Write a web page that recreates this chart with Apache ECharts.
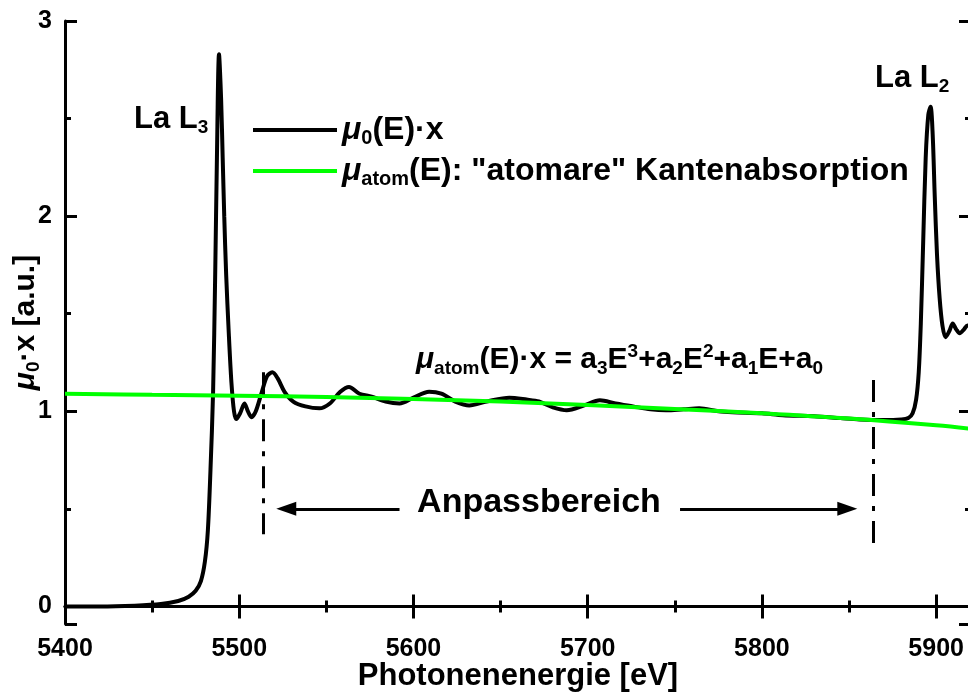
<!DOCTYPE html>
<html>
<head>
<meta charset="utf-8">
<script src="https://cdn.jsdelivr.net/npm/echarts@6/dist/echarts.min.js"></script>
<style>
  html, body { margin: 0; padding: 0; background: #ffffff; }
  #chart { width: 968px; height: 695px; }
</style>
</head>
<body>
<div id="chart"></div>
<script>
// Measured absorption spectrum around the La L3 and L2 edges
const energy = [
  5400, 5420, 5440, 5455, 5465, 5471, 5475, 5478, 5480.3, 5482, 5483.5, 5485, 5486.2, 5487.2, 5488.4,
  5489.6, 5490.5, 5491.4, 5492.5, 5494, 5495.5, 5497, 5498.3, 5500.5, 5503, 5505, 5507, 5509.5,
  5513, 5516, 5519, 5522, 5526, 5531, 5538, 5546, 5552, 5558, 5563, 5569, 5576, 5584, 5592,
  5600, 5609, 5616, 5624, 5632, 5642, 5655, 5665, 5672, 5680, 5688, 5698, 5707, 5716, 5726,
  5736, 5745, 5755, 5764, 5775, 5783, 5800, 5812, 5830, 5845, 5856, 5870, 5880, 5884, 5886.5,
  5888.5, 5890, 5891.2, 5892.5, 5894, 5895.5, 5896.8, 5898, 5899.2, 5900.5, 5902, 5903.6,
  5905.4, 5907.5, 5909.5, 5911.5, 5913.5, 5916, 5918, 5920
];
const mu0 = [
  0.000, 0.000, 0.004, 0.012, 0.028, 0.05, 0.08, 0.13, 0.23, 0.39, 0.7, 1.1, 1.7, 2.3, 2.83,
  2.6, 2.3, 2.0, 1.7, 1.4, 1.15, 1.0, 0.96, 0.99, 1.04, 1.0, 0.97, 1.0,
  1.1, 1.18, 1.2, 1.17, 1.1, 1.05, 1.025, 1.015, 1.04, 1.1, 1.125, 1.09, 1.075, 1.05, 1.04,
  1.07, 1.10, 1.09, 1.05, 1.03, 1.05, 1.07, 1.06, 1.05, 1.02, 1.005, 1.03, 1.056, 1.04, 1.025,
  1.01, 1.005, 1.01, 1.015, 1.0, 0.995, 0.99, 0.98, 0.975, 0.965, 0.958, 0.955, 0.958, 0.965, 0.99,
  1.06, 1.2, 1.45, 1.85, 2.3, 2.52, 2.56, 2.42, 2.1, 1.8, 1.58, 1.44,
  1.38, 1.41, 1.45, 1.42, 1.40, 1.42, 1.44, 1.44
];

// Cubic background ("atomic" edge absorption)
const atomEnergy = [5400, 5450, 5500, 5550, 5600, 5650, 5700, 5750, 5800, 5850, 5900, 5920];
const atomMu = [1.09, 1.085, 1.08, 1.073, 1.063, 1.05, 1.032, 1.012, 0.99, 0.963, 0.928, 0.91];

// Axis ranges and ticks
const xRange = [5400, 5920];
const xStep = 100;
const yRange = [-0.09, 3];
const yTickLabels = [0, 1, 2, 3];

// Fit window markers and the arrows between them
const fitRange = [5514, 5864];
const fitLineTop = [1.2, 1.16];
const fitLineBottom = [0.37, 0.31];
const arrowLevel = 0.5;
const arrowLeft = [5592, 5527];   // tail, head
const arrowRight = [5753, 5849];  // tail, head

const FONT = '"Liberation Sans", Arial, Helvetica, sans-serif';

function richSet(size, lh, subLh, supLh) {
  const base = { fontFamily: FONT, fontWeight: 'bold', color: '#000' };
  return {
    t: Object.assign({}, base, { fontSize: size, lineHeight: lh }),
    mu: Object.assign({}, base, { fontSize: size, lineHeight: lh, fontStyle: 'italic' }),
    sub: Object.assign({}, base, { fontSize: Math.round(size * 0.62), lineHeight: subLh, verticalAlign: 'bottom' }),
    sup: Object.assign({}, base, { fontSize: Math.round(size * 0.62), lineHeight: supLh, verticalAlign: 'top' })
  };
}

const legendLabels = {
  mu0: '{mu|\u03bc}{sub|0}{t|(E)\u00b7x}',
  atom: '{mu|\u03bc}{sub|atom}{t|(E): "atomare" Kantenabsorption}'
};

const zip = (a, b) => a.map((v, i) => [v, b[i]]);

const axisLine = { show: true, lineStyle: { color: '#000', width: 3 } };
const majorTick = { show: true, inside: true, length: 12, lineStyle: { color: '#000', width: 3 } };
const minorTick = { show: true, splitNumber: 2, length: 6, lineStyle: { color: '#000', width: 3 } };

const chart = echarts.init(document.getElementById('chart'), null, { renderer: 'canvas' });

chart.setOption({
  animation: false,
  backgroundColor: '#ffffff',
  grid: { left: 65, right: -3, top: 21, bottom: 71, containLabel: false, outerBoundsMode: 'none' },
  legend: {
    data: ['mu0', 'atom'],
    orient: 'vertical',
    left: 248,
    top: 109,
    icon: 'rect',
    itemWidth: 84,
    itemHeight: 4,
    itemGap: 7,
    formatter: name => legendLabels[name],
    textStyle: { rich: richSet(32, 36, 16, 12) }
  },
  xAxis: [
    {
      type: 'value', position: 'bottom', min: xRange[0], max: xRange[1], interval: xStep,
      axisLine, axisTick: majorTick, minorTick, splitLine: { show: false },
      axisLabel: {
        margin: 13, color: '#000', fontFamily: FONT, fontWeight: 'bold', fontSize: 25,
        formatter: v => (v % xStep === 0 ? String(v) : '')
      },
      name: 'Photonenenergie [eV]', nameLocation: 'middle', nameGap: 37, nameMoveOverlap: false,
      nameTextStyle: { color: '#000', fontFamily: FONT, fontWeight: 'bold', fontSize: 31 }
    },
    {
      type: 'value', position: 'top', min: xRange[0], max: xRange[1], interval: xStep,
      axisLine, axisTick: majorTick, minorTick, splitLine: { show: false },
      axisLabel: { show: false }
    }
  ],
  yAxis: [
    {
      type: 'value', position: 'left', min: yRange[0], max: yRange[1],
      splitNumber: 3, minInterval: 1, maxInterval: 1,
      axisLine, axisTick: majorTick, minorTick, splitLine: { show: false },
      axisLabel: {
        margin: 13, color: '#000', fontFamily: FONT, fontWeight: 'bold', fontSize: 25,
        formatter: v => (yTickLabels.indexOf(v) >= 0 ? String(v) : '')
      },
      name: '{mu|\u03bc}{sub|0}{t|\u00b7x [a.u.]}', nameLocation: 'middle', nameGap: 22, nameMoveOverlap: false,
      nameTextStyle: { rich: richSet(30, 34, 15, 12) }
    },
    {
      type: 'value', position: 'right', min: yRange[0], max: yRange[1],
      splitNumber: 3, minInterval: 1, maxInterval: 1,
      axisLine, axisTick: majorTick, minorTick, splitLine: { show: false },
      axisLabel: { show: false }
    }
  ],
  series: [
    {
      name: 'mu0', type: 'line', xAxisIndex: 0, yAxisIndex: 0,
      data: zip(energy, mu0), showSymbol: false, symbol: 'none', smooth: 0.3,
      lineStyle: { color: '#000', width: 4 }, itemStyle: { color: '#000' }, z: 2
    },
    {
      name: 'atom', type: 'line', xAxisIndex: 0, yAxisIndex: 0,
      data: zip(atomEnergy, atomMu), showSymbol: false, symbol: 'none', smooth: 0.4,
      lineStyle: { color: '#00ff00', width: 4 }, itemStyle: { color: '#00ff00' }, z: 3
    },
    {
      name: 'fitWindow', type: 'line', xAxisIndex: 0, yAxisIndex: 0, data: [], silent: true,
      markLine: {
        silent: true, symbol: 'none', label: { show: false },
        lineStyle: { color: '#000', width: 3, type: [22, 10, 5, 10] },
        data: fitRange.map((e, i) => [{ coord: [e, fitLineTop[i]] }, { coord: [e, fitLineBottom[i]] }])
      }
    },
    {
      name: 'fitArrows', type: 'line', xAxisIndex: 0, yAxisIndex: 0, data: [], silent: true,
      markLine: {
        silent: true, symbol: ['none', 'triangle'], symbolSize: [14, 20], label: { show: false },
        lineStyle: { color: '#000', width: 3, type: 'solid' },
        itemStyle: { color: '#000' },
        data: [
          [{ coord: [arrowLeft[0], arrowLevel] }, { coord: [arrowLeft[1], arrowLevel] }],
          [{ coord: [arrowRight[0], arrowLevel] }, { coord: [arrowRight[1], arrowLevel] }]
        ]
      }
    }
  ],
  graphic: [
    {
      type: 'text', x: 134, y: 119, silent: true,
      style: { text: '{t|La L}{sub|3}', rich: richSet(31, 36, 14, 12), align: 'left', verticalAlign: 'middle' }
    },
    {
      type: 'text', x: 875, y: 78, silent: true,
      style: { text: '{t|La L}{sub|2}', rich: richSet(31, 36, 14, 12), align: 'left', verticalAlign: 'middle' }
    },
    {
      type: 'text', x: 416, y: 360, silent: true,
      style: {
        text: '{mu|\u03bc}{sub|atom}{t|(E)\u00b7x = a}{sub|3}{t|E}{sup|3}{t|+a}{sub|2}{t|E}{sup|2}{t|+a}{sub|1}{t|E+a}{sub|0}',
        rich: richSet(30, 36, 12, 12), align: 'left', verticalAlign: 'middle'
      }
    },
    {
      type: 'text', x: 539, y: 503, silent: true,
      style: { text: 'Anpassbereich', font: 'bold 34px ' + FONT, fill: '#000', align: 'center', verticalAlign: 'middle' }
    }
  ]
});
</script>
</body>
</html>
